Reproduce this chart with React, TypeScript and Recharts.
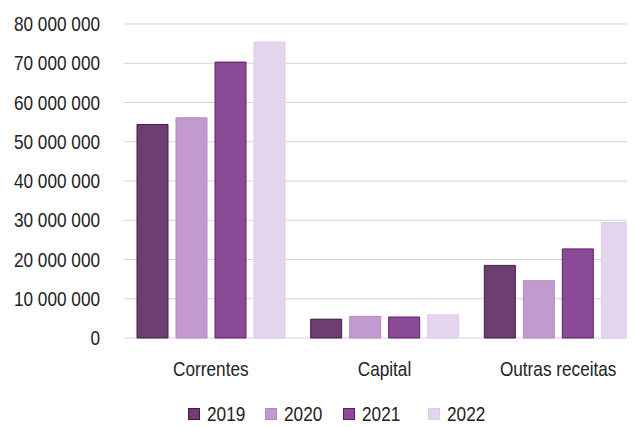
import React from "react";
import { BarChart, Bar, XAxis, YAxis, CartesianGrid, Legend } from "recharts";

const categories = ["Correntes", "Capital", "Outras receitas"];
const years = ["2019", "2020", "2021", "2022"];
const values2019 = [54400000, 4800000, 18500000];
const values2020 = [56100000, 5500000, 14600000];
const values2021 = [70300000, 5350000, 22700000];
const values2022 = [75400000, 5900000, 29450000];
const yTicks = [0, 10000000, 20000000, 30000000, 40000000, 50000000, 60000000, 70000000, 80000000];

const fills = ["#6e3e72", "#c39ad0", "#8b4a96", "#e4d4ee"];
const strokes = ["#3d1f42", "#b58ac2", "#5c2163", "#ddcce8"];
const legendWidths = [77, 78, 85, 80];

const seriesValues = [values2019, values2020, values2021, values2022];
const data = categories.map((c, i) => {
  const row: any = { name: c };
  years.forEach((y, k) => {
    row["y" + y] = seriesValues[k][i];
  });
  return row;
});

const FONT = "'Liberation Sans', Arial, sans-serif";
const FS = 20;
const SX = 0.86;
const TXT = "#222";

const fmt = (v: number) => String(v).replace(/\B(?=(\d{3})+(?!\d))/g, " ");

const XTick = (props: any) => {
  const { x, y, payload } = props;
  return (
    <g transform={`translate(${x},${y})`}>
      <text transform={`scale(${SX},1)`} textAnchor="middle" dy="0.71em" fontFamily={FONT} fontSize={FS} fill={TXT}>
        {payload.value}
      </text>
    </g>
  );
};

const YTick = (props: any) => {
  const { x, y, payload } = props;
  return (
    <g transform={`translate(${x},${y})`}>
      <text transform={`scale(${SX},1)`} textAnchor="end" dy="0.355em" fontFamily={FONT} fontSize={FS} fill={TXT}>
        {fmt(payload.value)}
      </text>
    </g>
  );
};

const LegendContent = () => (
  <div style={{ height: 38, display: "flex", alignItems: "flex-end", paddingLeft: 180, fontFamily: FONT, fontSize: FS, color: TXT, position: "relative", top: 0 }}>
    {years.map((y, k) => (
      <div key={y} style={{ width: legendWidths[k], display: "flex", alignItems: "center", height: 24 }}>
        <span style={{ display: "inline-block", width: 10, height: 10, background: fills[k], border: `1px solid ${strokes[k]}`, marginRight: 7 }} />
        <span style={{ lineHeight: "18px", display: "inline-block", transform: `scaleX(${SX})`, transformOrigin: "left center" }}>{y}</span>
      </div>
    ))}
  </div>
);

export default function App() {
  return (
    <div style={{ width: 627, height: 419, overflow: "hidden", background: "#fff" }}>
      <BarChart
        width={640}
        height={419}
        data={data}
        margin={{ top: 16, right: 3, left: 0, bottom: 1 }}
        barSize={31}
        barGap={8}
      >
        <CartesianGrid vertical={false} stroke="#d4d4d4" strokeWidth={1} />
        <XAxis
          dataKey="name"
          axisLine={false}
          tickLine={false}
          tickSize={0}
          tickMargin={24}
          height={50}
          tick={<XTick />}
        />
        <YAxis
          width={116}
          domain={[0, 80000000]}
          ticks={yTicks}
          axisLine={false}
          tickLine={false}
          tickSize={0}
          tickMargin={24}
          tick={<YTick />}
        />
        <Legend verticalAlign="bottom" content={<LegendContent />} />
        {years.map((y, k) => (
          <Bar
            key={y}
            dataKey={"y" + y}
            name={y}
            fill={fills[k]}
            stroke={strokes[k]}
            strokeWidth={1}
            isAnimationActive={false}
          />
        ))}
      </BarChart>
    </div>
  );
}
